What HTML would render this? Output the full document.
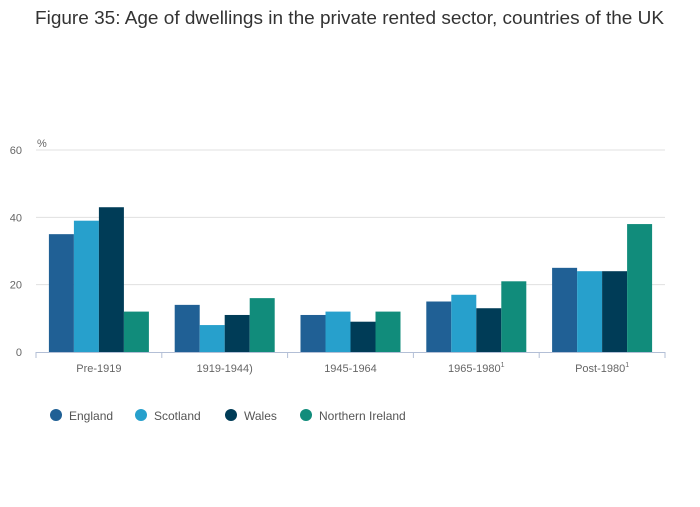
<!DOCTYPE html>
<html><head><meta charset="utf-8"><style>
body{margin:0;background:#fff;font-family:"Liberation Sans",sans-serif;}
svg text{font-family:"Liberation Sans",sans-serif;}
</style></head><body>
<svg id="chart" width="700" height="502">
<text x="35" y="24" textLength="629" lengthAdjust="spacingAndGlyphs" font-size="18" fill="#333">Figure 35: Age of dwellings in the private rented sector, countries of the UK</text>
<text x="37" y="147" font-size="11" fill="#666">%</text>
<g id="grid"></g><g id="bars"></g><g id="xaxis"></g><g id="legend"></g>
</svg>
<script>
const categories=["Pre-1919","1919-1944)","1945-1964","1965-1980","Post-1980"];
const sup=["","","","1","1"];
const seriesNames=["England","Scotland","Wales","Northern Ireland"];
const england=[35,14,11,15,25];
const scotland=[39,8,12,17,24];
const wales=[43,11,9,13,24];
const nireland=[12,16,12,21,38];
const yTicks=[0,20,40,60];
const colors=["#206095","#27a0cc","#003c57","#118c7b"];
const series=[england,scotland,wales,nireland];
const NS="http://www.w3.org/2000/svg";
const x0=36,x1=665,yBase=352,yTop=150;
const y=v=>yBase-(v/60)*(yBase-yTop);
const bw=(x1-x0)/categories.length;
function mk(t,a,p){const e=document.createElementNS(NS,t);for(const k in a)e.setAttribute(k,a[k]);p.appendChild(e);return e;}
const grid=document.getElementById('grid');
yTicks.forEach(v=>{
 if(v>0){const l=mk('line',{x1:x0,x2:x1,y1:y(v),y2:y(v),stroke:'#e0e0e0'},grid);
 
 }
 const t=mk('text',{x:22,y:y(v)+4,'text-anchor':'end','font-size':11,fill:'#666'},grid);t.textContent=v;
 
 
});
const bars=document.getElementById('bars');
const barW=25;
categories.forEach((c,i)=>{
 const cx=x0+bw*(i+0.5);
 series.forEach((s,j)=>{
  const bx=cx-2*barW+j*barW;
  const r=mk('rect',{x:bx,y:y(s[i]),width:barW,height:yBase-y(s[i]),fill:colors[j]},bars);
  
  
 });
});
const xa=document.getElementById('xaxis');
const al=mk('line',{x1:x0,x2:x1,y1:yBase+0.5,y2:yBase+0.5,stroke:'#b3bfd6'},xa);


for(let i=0;i<=categories.length;i++){mk('line',{x1:x0+bw*i,x2:x0+bw*i,y1:yBase,y2:yBase+6,stroke:'#b3bfd6'},xa);}
categories.forEach((c,i)=>{
 const t=mk('text',{x:x0+bw*(i+0.5),y:372,'text-anchor':'middle','font-size':11,fill:'#666'},xa);
 t.textContent=c;
 if(sup[i]){const ts=mk('tspan',{'font-size':7,dy:-5},t);ts.textContent=sup[i];}
 
 
});
const lg=document.getElementById('legend');
const lx=[56,141,231,306];
seriesNames.forEach((n,j)=>{
 const g=mk('g',{},lg);
 
 
 mk('circle',{cx:lx[j],cy:415,r:6,fill:colors[j]},g);
 const t=mk('text',{x:lx[j]+13,y:420,'font-size':12,fill:'#555'},g);t.textContent=n;
});
</script>
</body></html>
